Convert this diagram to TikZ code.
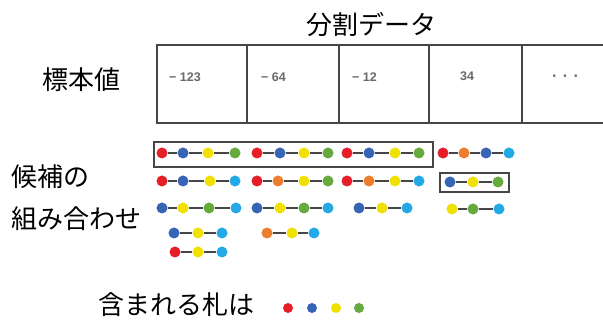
\documentclass[tikz,border=0pt]{standalone}
\usepackage{fontspec}
\newfontfamily\jp{Noto Sans CJK JP}
\newfontfamily\numf{Liberation Sans}
\definecolor{cR}{RGB}{230,30,40}
\definecolor{cB}{RGB}{55,100,180}
\definecolor{cY}{RGB}{240,225,0}
\definecolor{cG}{RGB}{100,170,60}
\definecolor{cC}{RGB}{35,170,230}
\definecolor{cO}{RGB}{235,125,45}
\definecolor{ln}{RGB}{70,70,70}
\definecolor{numc}{RGB}{105,105,105}
\tikzset{
  dot/.style={circle, inner sep=0pt, minimum size=11pt, draw=none},
  ldot/.style={circle, inner sep=0pt, minimum size=10pt, draw=none},
  link/.style={draw=ln, line width=1.6pt},
  cell/.style={draw=ln, line width=1.4pt, minimum height=78pt, inner sep=0pt},
  frame/.style={draw=ln, line width=1.8pt, inner sep=0pt},
  jlabel/.style={font=\jp\fontsize{26}{30}\selectfont, inner sep=0pt},
  num/.style={font=\numf\bfseries\fontsize{12.5}{14}\selectfont, text=numc, inner sep=0pt, anchor=west}
}
\newcommand\mychain[4]{%
  \foreach \xx/\cc [count=\i] in {#4}{%
    \node[dot, fill=\cc] (#1-\i) at (\xx,#2) {};}%
  \foreach \k [evaluate=\k as \p using int(\k-1)] in {2,...,#3}{%
    \draw[link] (#1-\p) -- (#1-\k);}%
}
\begin{document}
\begin{tikzpicture}[x=1pt,y=-1pt]
\useasboundingbox (0,0) rectangle (603,320);
\clip (0,0) rectangle (603,320);
\fill[white] (0,0) rectangle (603,320);

% titles
\node[jlabel] (title) at (371,25) {分割データ};
\node[jlabel] (hyohon) at (81,80) {標本値};
\node[jlabel, anchor=west] (kouho) at (11,177) {候補の};
\node[jlabel, anchor=west] (kumi) at (11,219) {組み合わせ};
\node[jlabel, anchor=west] (fuda) at (98,305) {含まれる札は};

% table
\node[cell, minimum width=90pt] (c1) at (202,84) {};
\node[cell, minimum width=92pt] (c2) at (293,84) {};
\node[cell, minimum width=90pt] (c3) at (384,84) {};
\node[cell, minimum width=93pt] (c4) at (475.5,84) {};
\node[cell, minimum width=100pt] (c5) at (572,84) {};
\node[num] (n1) at (169,77) {− 123};
\node[num] (n2) at (261,77) {− 64};
\node[num] (n3) at (352,77) {− 12};
\node[num] (n4) at (460,76) {34};
\node[num, font=\numf\bfseries\fontsize{16}{16}\selectfont] (n5) at (552,78) {·\,\,·\,\,·};

% candidate chains
\mychain{ra}{153}{4}{162/cR,183/cB,208/cY,235/cG}
\mychain{rb}{153}{4}{257/cR,280/cB,304/cY,328/cG}
\mychain{rc}{153}{4}{347/cR,369/cB,395/cY,419/cG}
\mychain{rd}{153}{4}{443/cR,464/cO,486/cB,509/cC}

\mychain{sa}{181}{4}{162/cR,183/cB,210/cY,235/cC}
\mychain{sb}{181}{4}{257/cR,278/cO,304/cY,328/cG}
\mychain{sc}{181}{4}{347/cR,369/cO,395/cY,419/cC}
\mychain{sd}{182}{3}{450/cB,473/cY,498/cG}

\mychain{ta}{208}{4}{162/cB,183/cY,209/cG,236/cC}
\mychain{tb}{208}{4}{257/cB,280/cY,304/cG,328/cC}
\mychain{tc}{208}{3}{359/cB,382/cY,407/cC}
\mychain{td}{209}{3}{452/cY,473/cG,499/cC}

\mychain{ua}{233}{3}{174/cB,198/cY,222/cC}
\mychain{ub}{233}{3}{267/cO,292/cY,314/cC}
\mychain{va}{252}{3}{175/cR,198/cY,222/cC}

% frames
\node[frame, minimum width=279pt, minimum height=25pt] (box1) at (293.5,154.5) {};
\node[frame, minimum width=69pt, minimum height=19pt] (box2) at (474.5,182.5) {};

% legend dots
\node[ldot, fill=cR] (l1) at (288,308) {};
\node[ldot, fill=cB] (l2) at (312,308) {};
\node[ldot, fill=cY] (l3) at (336,308) {};
\node[ldot, fill=cG] (l4) at (359,308) {};
\end{tikzpicture}
\end{document}
